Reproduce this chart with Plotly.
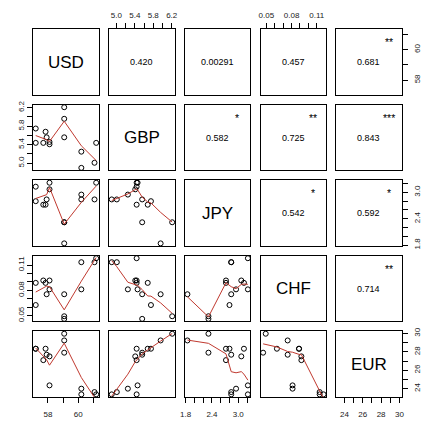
import numpy as np
import plotly.graph_objects as go

# ---- data ----
names = ["USD", "GBP", "JPY", "CHF", "EUR"]
usd = [57.19, 57.19, 57.69, 57.84, 57.91, 58.10, 58.10, 59.07, 59.07, 59.07, 60.20, 60.20, 61.07, 61.18]
gbp = [5.75, 5.44, 5.44, 5.68, 5.56, 5.41, 5.46, 6.21, 5.96, 5.56, 5.25, 4.90, 5.01, 5.44]
jpy = [2.80, 3.13, 2.72, 2.72, 2.84, 3.07, 3.22, 2.32, 1.84, 2.32, 2.95, 2.84, 2.84, 3.22]
chf = [0.0626, 0.0889, 0.0917, 0.0889, 0.0754, 0.0917, 0.0812, 0.0493, 0.0754, 0.0462, 0.0812, 0.1134, 0.1134, 0.1181]
eur = [28.34, 28.34, 27.10, 28.34, 27.69, 27.51, 24.36, 29.97, 29.24, 27.91, 24.00, 23.38, 23.63, 23.38]

# upper-triangle texts, row-major order
corr_labels = ["0.420", "0.00291", "0.457", "0.681", "0.582", "0.725", "0.843", "0.542", "0.592", "0.714"]
corr_stars = ["", "", "", "**", "*", "**", "***", "*", "*", "**"]

usd_ticks = [58, 59, 60, 61]
usd_ticktext = ["58", "", "60", ""]
gbp_ticks = [5.0, 5.2, 5.4, 5.6, 5.8, 6.0, 6.2]
gbp_ticktext = ["5.0", "", "5.4", "", "5.8", "", "6.2"]
jpy_ticks = [1.8, 2.0, 2.2, 2.4, 2.6, 2.8, 3.0, 3.2]
jpy_ticktext = ["1.8", "", "", "2.4", "", "", "3.0", ""]
chf_ticks = [0.05, 0.06, 0.07, 0.08, 0.09, 0.10, 0.11]
chf_ticktext = ["0.05", "", "", "0.08", "", "", "0.11"]
eur_ticks = [24, 25, 26, 27, 28, 29, 30]
eur_ticktext = ["24", "", "26", "", "28", "", "30"]

data = [usd, gbp, jpy, chf, eur]
ticks = [usd_ticks, gbp_ticks, jpy_ticks, chf_ticks, eur_ticks]
ticktexts = [usd_ticktext, gbp_ticktext, jpy_ticktext, chf_ticktext, eur_ticktext]


# ---- R's lowess (clowess) ----
def _lowest(x, y, n, xs, nleft, nright, w, userw, rw):
    rng = x[n - 1] - x[0]
    h = max(xs - x[nleft], x[nright] - xs)
    h9 = 0.999 * h
    h1 = 0.001 * h
    a = 0.0
    j = nleft
    while j < n:
        w[j] = 0.0
        r = abs(x[j] - xs)
        if r <= h9:
            if r <= h1:
                w[j] = 1.0
            else:
                w[j] = (1.0 - (r / h) ** 3) ** 3
            if userw:
                w[j] *= rw[j]
            a += w[j]
        elif x[j] > xs:
            break
        j += 1
    nrt = j - 1
    if a <= 0.0:
        return 0.0, False
    for j in range(nleft, nrt + 1):
        w[j] /= a
    if h > 0.0:
        a = sum(w[j] * x[j] for j in range(nleft, nrt + 1))
        b = xs - a
        c = sum(w[j] * (x[j] - a) ** 2 for j in range(nleft, nrt + 1))
        if np.sqrt(c) > 0.001 * rng:
            b /= c
            for j in range(nleft, nrt + 1):
                w[j] *= (b * (x[j] - a) + 1.0)
    ys = sum(w[j] * y[j] for j in range(nleft, nrt + 1))
    return ys, True


def lowess(xin, yin, f=2.0 / 3.0, nsteps=3):
    order = np.argsort(xin, kind="stable")
    x = np.asarray(xin, float)[order]
    y = np.asarray(yin, float)[order]
    n = len(x)
    delta = 0.01 * (x[-1] - x[0])
    ys = np.zeros(n)
    rw = np.zeros(n)
    res = np.zeros(n)
    ns = max(min(int(f * n + 1e-7), n), 2)
    it = 1
    while it <= nsteps + 1:
        nleft = 0
        nright = ns - 1
        last = -1
        i = 0
        while True:
            if nright < n - 1:
                d1 = x[i] - x[nleft]
                d2 = x[nright + 1] - x[i]
                if d1 > d2:
                    nleft += 1
                    nright += 1
                    continue
            val, ok = _lowest(x, y, n, x[i], nleft, nright, res, it > 1, rw)
            ys[i] = val if ok else y[i]
            if last < i - 1:
                denom = x[i] - x[last]
                for j in range(last + 1, i):
                    alpha = (x[j] - x[last]) / denom
                    ys[j] = alpha * ys[i] + (1 - alpha) * ys[last]
            last = i
            cut = x[last] + delta
            i = last + 1
            while i < n:
                if x[i] > cut:
                    break
                if x[i] == x[last]:
                    ys[i] = ys[last]
                    last = i
                i += 1
            i = max(last + 1, i - 1)
            if last >= n - 1:
                break
        res = y - ys
        sc = np.sum(np.abs(res)) / n
        if it > nsteps:
            break
        srt = np.sort(np.abs(res))
        m1 = n // 2
        if n % 2 == 0:
            m2 = n - m1 - 1
            cmad = 3.0 * (srt[m1] + srt[m2])
        else:
            cmad = 6.0 * srt[m1]
        if cmad < 1e-7 * sc:
            break
        c9 = 0.999 * cmad
        c1 = 0.001 * cmad
        for k in range(n):
            r = abs(res[k])
            if r <= c1:
                rw[k] = 1.0
            elif r <= c9:
                rw[k] = (1.0 - (r / cmad) ** 2) ** 2
            else:
                rw[k] = 0.0
        it += 1
    return x, ys


# ---- layout geometry ----
W, H = 423, 422
col_left = [33.3, 109.3, 185.0, 260.7, 336.3]
row_top = [29.3, 104.8, 180.3, 255.8, 331.3]
pw, ph = 65.3, 65.5
FONT = "Liberation Sans, Arial, sans-serif"
TICKFONT = dict(size=8, family=FONT, color="#1a1a1a")


def vrange(v):
    lo, hi = min(v), max(v)
    e = 0.04 * (hi - lo)
    return [lo - e, hi + e]


fig = go.Figure()
layout = dict(width=W, height=H, autosize=False, margin=dict(l=0, r=0, t=0, b=0, autoexpand=False),
              paper_bgcolor="white", plot_bgcolor="white", showlegend=False,
              font=dict(family=FONT, color="black"))
annotations = []
k_up = 0
for i in range(5):
    for j in range(5):
        k = i * 5 + j + 1
        xs = "" if k == 1 else str(k)
        xa = dict(domain=[col_left[j] / W, (col_left[j] + pw) / W], anchor="y" + xs,
                  range=vrange(data[j]), showline=True, mirror=True, linecolor="black",
                  linewidth=1, showgrid=False, zeroline=False, ticks="", showticklabels=False,
                  automargin=False, fixedrange=True,
                  tickvals=ticks[j], ticktext=ticktexts[j], tickfont=TICKFONT)
        ya = dict(domain=[1 - (row_top[i] + ph) / H, 1 - row_top[i] / H], anchor="x" + xs,
                  range=vrange(data[i]), showline=True, mirror=True, linecolor="black",
                  linewidth=1, showgrid=False, zeroline=False, ticks="", showticklabels=False,
                  automargin=False, fixedrange=True,
                  tickvals=ticks[i], ticktext=ticktexts[i], tickfont=TICKFONT,
                  tickangle=-90)
        if i == 4 and j % 2 == 0:
            xa.update(side="bottom", ticks="outside", ticklen=5, tickcolor="black", showticklabels=True,
                      ticklabelstandoff=5)
        if i == 0 and j % 2 == 1:
            xa.update(side="top", ticks="outside", ticklen=5, tickcolor="black", showticklabels=True,
                      ticklabelstandoff=2)
        if j == 0 and i % 2 == 1:
            ya.update(side="left", ticks="outside", ticklen=5, tickcolor="black", showticklabels=True,
                      ticklabelstandoff=0)
        if j == 4 and i % 2 == 0:
            ya.update(side="right", ticks="outside", ticklen=5, tickcolor="black", showticklabels=True,
                      ticklabelstandoff=3)
        layout["xaxis" + xs] = xa
        layout["yaxis" + xs] = ya

        if i > j:
            fig.add_trace(go.Scatter(x=data[j], y=data[i], mode="markers", xaxis="x" + xs, yaxis="y" + xs,
                                     marker=dict(symbol="circle-open", size=5, color="black",
                                                 line=dict(width=1, color="black")),
                                     hoverinfo="skip", cliponaxis=False))
            lx, ly = lowess(data[j], data[i])
            fig.add_trace(go.Scatter(x=lx, y=ly, mode="lines", xaxis="x" + xs, yaxis="y" + xs,
                                     line=dict(color="#C0392F", width=1), hoverinfo="skip"))
        else:
            # empty trace so that the panel exists
            fig.add_trace(go.Scatter(x=[None], y=[None], mode="markers", xaxis="x" + xs, yaxis="y" + xs,
                                     hoverinfo="skip"))
            if i == j:
                annotations.append(dict(text=names[i], xref="x" + xs + " domain", yref="y" + xs + " domain",
                                        x=0.5, y=0.5, showarrow=False, xanchor="center", yanchor="middle",
                                        font=dict(size=17, family=FONT, color="black")))
            else:
                annotations.append(dict(text=corr_labels[k_up], xref="x" + xs + " domain",
                                        yref="y" + xs + " domain", x=0.5, y=0.5, showarrow=False,
                                        xanchor="center", yanchor="middle",
                                        font=dict(size=9, family=FONT, color="black")))
                if corr_stars[k_up]:
                    annotations.append(dict(text=corr_stars[k_up], xref="x" + xs + " domain",
                                            yref="y" + xs + " domain", x=0.8, y=0.8, showarrow=False,
                                            xanchor="center", yanchor="middle",
                                            font=dict(size=10.5, family=FONT, color="black")))
                k_up += 1

layout["annotations"] = annotations
fig.update_layout(**layout)
fig.write_html("out.html", config={"displayModeBar": False},
               post_script="document.body.style.margin='0px';document.body.style.padding='0px';")
